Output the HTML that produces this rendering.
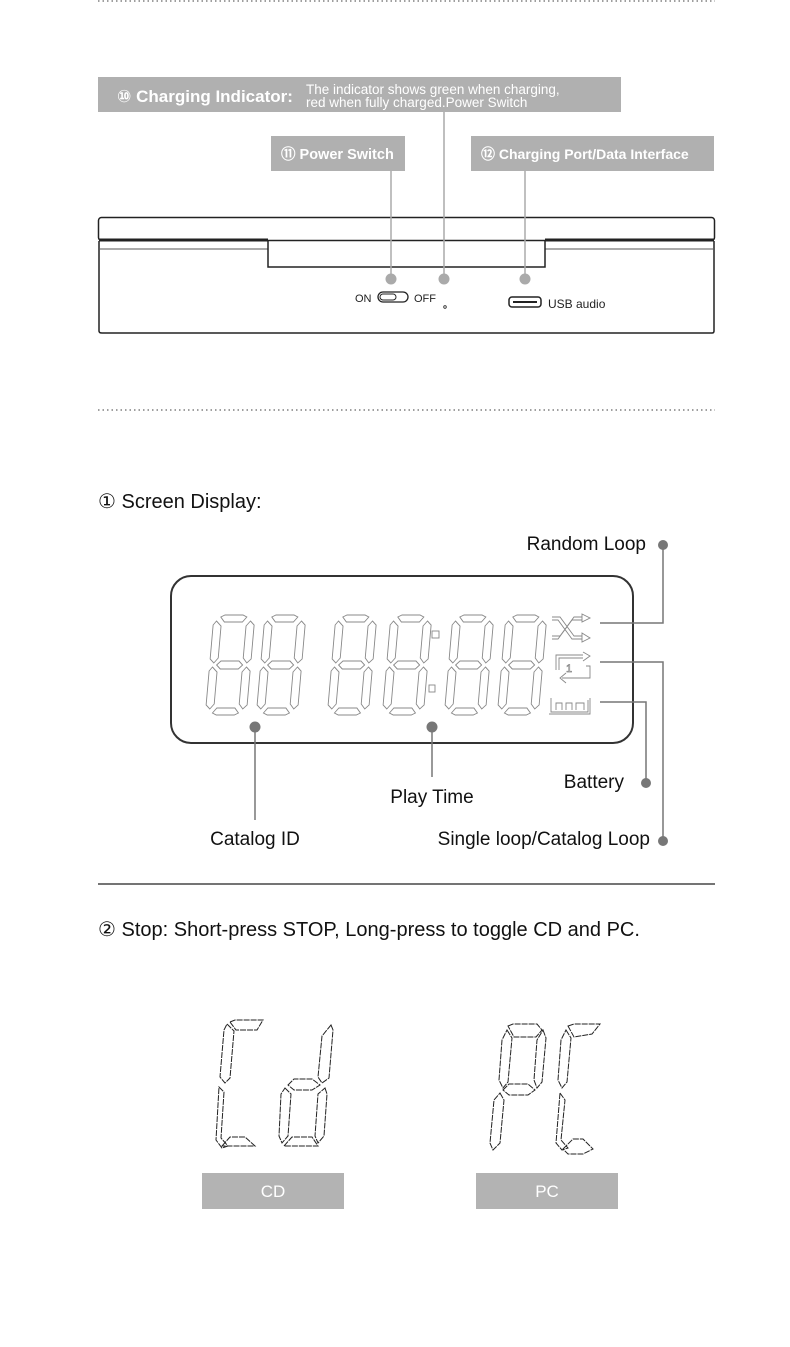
<!DOCTYPE html>
<html><head><meta charset="utf-8"><style>
html,body{margin:0;padding:0;background:#fff}
svg{display:block}
text{font-family:"Liberation Sans","DejaVu Sans",sans-serif}
</style></head><body>
<svg width="790" height="1347" viewBox="0 0 790 1347" xmlns="http://www.w3.org/2000/svg">
<defs>
<g id="dig" fill="none" stroke="#888" stroke-width="0.9" transform="skewX(-5)">
 <polygon points="10,2 14,0 32,0 36,2 32,7 14,7"/>
 <polygon points="6,6 11,11 11,43 7,48 3,44 3,10"/>
 <polygon points="40,6 44,10 44,44 40,48 36,43 36,11"/>
 <polygon points="10,50 14,46 32,46 36,50 32,54 14,54"/>
 <polygon points="6,52 11,57 11,89 7,94 3,90 3,56"/>
 <polygon points="40,52 44,56 44,90 40,94 36,89 36,57"/>
 <polygon points="10,98 14,93 32,93 36,98 32,100 14,100"/>
</g>
</defs>
<line x1="98" y1="1" x2="715" y2="1" stroke="#666" stroke-width="1.2" stroke-dasharray="1.5 3"/>
<line x1="98" y1="410" x2="715" y2="410" stroke="#666" stroke-width="1.2" stroke-dasharray="1.5 3"/>

<rect x="98" y="77" width="523" height="35" fill="#b0b0b0"/>
<text x="117" y="102" fill="#fff" font-size="17" font-weight="bold">⑩ Charging Indicator:</text>
<text x="306" y="94" fill="#fff" font-size="13.5">The indicator shows green when charging,</text>
<text x="306" y="107" fill="#fff" font-size="13.5">red when fully charged.Power Switch</text>
<rect x="271" y="136" width="134" height="35" fill="#b0b0b0"/>
<text x="281" y="159" fill="#fff" font-size="14.5" font-weight="bold">⑪ Power Switch</text>
<rect x="471" y="136" width="243" height="35" fill="#b0b0b0"/>
<text x="481" y="159" fill="#fff" font-size="14" font-weight="bold">⑫ Charging Port/Data Interface</text>

<rect x="98.5" y="217.5" width="616" height="23" rx="3" fill="none" stroke="#222" stroke-width="1.5"/>
<path d="M99 241 L99 331 Q99 333 102 333 L712 333 Q714 333 714 331 L714 241" fill="none" stroke="#222" stroke-width="1.5"/>
<line x1="99" y1="240" x2="268" y2="240" stroke="#222" stroke-width="3"/>
<line x1="545" y1="240" x2="714" y2="240" stroke="#222" stroke-width="3"/>
<line x1="100" y1="249" x2="268" y2="249" stroke="#555" stroke-width="1"/>
<line x1="545" y1="249" x2="713" y2="249" stroke="#555" stroke-width="1"/>
<path d="M268 241 L268 267 L545 267 L545 241" fill="none" stroke="#222" stroke-width="1.5"/>
<g stroke="#aaa" stroke-width="1.5">
<line x1="391" y1="171" x2="391" y2="279"/>
<line x1="444" y1="112" x2="444" y2="279"/>
<line x1="525" y1="171" x2="525" y2="279"/>
</g>
<g fill="#aaa"><circle cx="391" cy="279" r="5.5"/><circle cx="444" cy="279" r="5.5"/><circle cx="525" cy="279" r="5.5"/></g>
<text x="355" y="302" font-size="11" fill="#222">ON</text>
<rect x="378" y="292" width="30" height="10" rx="5" fill="none" stroke="#222" stroke-width="1.3"/>
<rect x="380" y="294" width="16" height="6" rx="3" fill="none" stroke="#222" stroke-width="1"/>
<text x="414" y="302" font-size="11" fill="#222">OFF</text>
<circle cx="445" cy="307" r="1.3" fill="none" stroke="#222" stroke-width="0.8"/>
<rect x="509" y="297" width="32" height="10" rx="3" fill="none" stroke="#222" stroke-width="1.5"/>
<line x1="513" y1="302" x2="537" y2="302" stroke="#222" stroke-width="2"/>
<text x="548" y="308" font-size="12" fill="#222">USB  audio</text>

<text x="98" y="508" font-size="20" fill="#111">① Screen Display:</text>
<rect x="171" y="576" width="462" height="167" rx="20" fill="none" stroke="#333" stroke-width="2"/>
<use href="#dig" x="211" y="615"/>
<use href="#dig" x="262" y="615"/>
<use href="#dig" x="333" y="615"/>
<use href="#dig" x="388" y="615"/>
<use href="#dig" x="450" y="615"/>
<use href="#dig" x="503" y="615"/>
<rect x="432" y="631" width="7" height="7" fill="none" stroke="#888" stroke-width="0.9"/>
<rect x="429" y="685" width="6" height="7" fill="none" stroke="#888" stroke-width="0.9"/>
<g fill="none" stroke="#888" stroke-width="0.9">
<path d="M552 617 L560 617 L574 636 L582 636 M552 620 L558 620 L572 639 L582 639 M552 636 L560 636 L574 617 L582 617 M552 639 L558 639 L572 620 L582 620"/>
<polygon points="582,614 590,618 582,622"/><polygon points="582,633 590,638 582,642"/>
<path d="M556 670 L556 655 L583 655 M559 670 L559 658 L583 658 M583 652 L590 656 L583 661 M586 666 L590 666 L590 678 L562 678 M566 673 L560 678 L566 683"/>
<text x="566" y="672" font-size="11" fill="none" stroke="#888" stroke-width="0.7">1</text>
<path d="M551 698 L551 712 L588 712 L588 700 M549 714 L590 714 L590 698 M556 710 L556 703 L562 703 L562 710 M566 710 L566 703 L572 703 L572 710 M576 710 L576 703 L584 703 L584 710"/>
</g>
<g stroke="#777" stroke-width="1.5" fill="none">
<path d="M600 623 L663 623 L663 546"/>
<path d="M600 662 L663 662 L663 841"/>
<path d="M600 702 L646 702 L646 783"/>
<line x1="255" y1="727" x2="255" y2="820"/>
<line x1="432" y1="727" x2="432" y2="777"/>
</g>
<g fill="#777"><circle cx="663" cy="545" r="5"/><circle cx="663" cy="841" r="5"/><circle cx="646" cy="783" r="5"/><circle cx="255" cy="727" r="5.5"/><circle cx="432" cy="727" r="5.5"/></g>
<text x="646" y="550" font-size="19" fill="#111" text-anchor="end">Random Loop</text>
<text x="624" y="788" font-size="19" fill="#111" text-anchor="end">Battery</text>
<text x="650" y="845" font-size="19" fill="#111" text-anchor="end">Single loop/Catalog Loop</text>
<text x="255" y="845" font-size="19" fill="#111" text-anchor="middle">Catalog ID</text>
<text x="432" y="803" font-size="19" fill="#111" text-anchor="middle">Play Time</text>

<line x1="98" y1="884" x2="715" y2="884" stroke="#222" stroke-width="1.3"/>
<text x="98" y="936" font-size="20" fill="#111">② Stop: Short-press STOP,  Long-press to toggle CD and PC.</text>

<g fill="none" stroke="#222" stroke-width="1" stroke-dasharray="6 1">
 <polygon points="230,1022 235,1020 263,1020 257,1030 236,1030"/>
 <polygon points="227,1024 234,1031 230,1078 225,1083 220,1077 224,1030"/>
 <polygon points="219,1087 224,1092 221,1138 228,1146 222,1148 216,1140"/>
 <polygon points="222,1146 230,1137 245,1137 255,1146"/>
 <polygon points="331,1025 333,1030 329,1078 322,1083 318,1077 322,1036"/>
 <polygon points="288,1085 294,1079 312,1079 320,1085 312,1090 294,1090"/>
 <polygon points="285,1088 291,1094 288,1136 282,1143 279,1136 281,1094"/>
 <polygon points="325,1088 327,1094 324,1136 318,1143 315,1136 318,1094"/>
 <polygon points="284,1146 292,1137 312,1137 318,1146"/>
 <polygon points="508,1026 513,1024 537,1024 542,1030 536,1037 514,1037"/>
 <polygon points="507,1030 512,1038 508,1082 503,1088 499,1080 502,1040"/>
 <polygon points="543,1030 546,1038 542,1082 537,1088 534,1080 537,1040"/>
 <polygon points="503,1090 509,1084 528,1084 535,1090 528,1095 509,1095"/>
 <polygon points="500,1093 504,1100 500,1143 493,1150 490,1143 494,1100"/>
 <polygon points="568,1026 574,1024 600,1024 592,1034 574,1037"/>
 <polygon points="566,1030 571,1038 567,1082 562,1088 558,1080 561,1040"/>
 <polygon points="560,1093 565,1100 561,1140 568,1148 562,1150 556,1143"/>
 <polygon points="563,1149 573,1139 583,1139 593,1149 583,1154 568,1154"/>
</g>
<rect x="202" y="1173" width="142" height="36" fill="#b3b3b3"/>
<text x="273" y="1197" font-size="17" fill="#fff" text-anchor="middle">CD</text>
<rect x="476" y="1173" width="142" height="36" fill="#b3b3b3"/>
<text x="547" y="1197" font-size="17" fill="#fff" text-anchor="middle">PC</text>
</svg>
</body></html>
